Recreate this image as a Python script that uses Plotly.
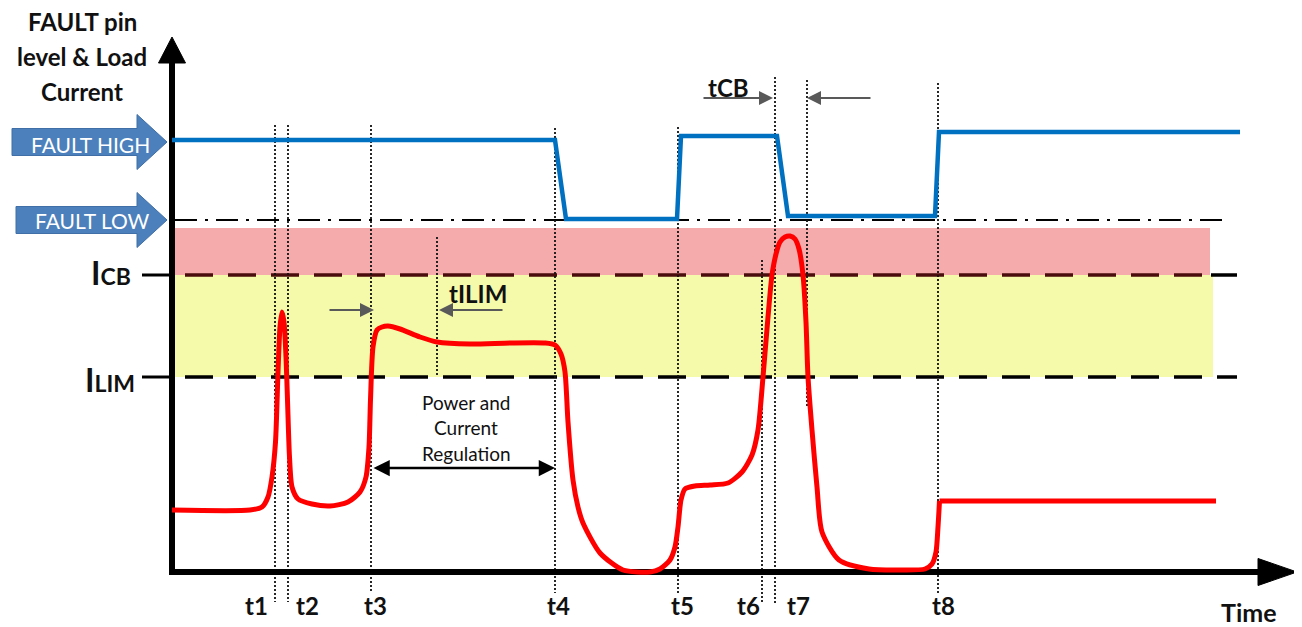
import plotly.graph_objects as go

# ---------------- data (time units / level units) ----------------
time_red = [0, 7.8, 9.0, 9.6, 10.0, 10.35, 10.6, 10.8, 11.0, 11.2, 11.4, 11.55, 11.75, 12.0, 12.6,
            14.0, 15.8, 17.6, 18.8, 19.4, 19.7, 19.85, 20.1, 20.5, 21.0, 21.6, 22.8, 24.8, 26.5,
            29.8, 33.8, 37.3, 38.3, 38.9, 39.3, 39.6, 40.1, 40.6, 41.1, 42.8, 45.1, 47.8, 48.8,
            49.8, 50.3, 50.6, 50.9, 51.3, 52.3, 53.8, 55.6, 57.0, 58.0, 58.6, 59.1, 59.6, 60.0,
            60.4, 60.8, 61.3, 61.8, 62.3, 62.7, 63.1, 63.4, 63.6, 64.0, 64.5, 65.0, 66.7, 69.7,
            72.8, 75.3, 76.0, 76.4, 76.6, 76.75]
load_current = [6.2, 6.2, 6.5, 7.5, 9.5, 13.0, 20.0, 24.5, 26.0, 25.0, 21.5, 17.2, 11.5, 8.5, 7.3,
                6.8, 6.6, 7.0, 8.0, 9.5, 12.5, 17.2, 22.5, 24.2, 24.5, 24.6, 24.3, 23.5, 23.0,
                22.8, 22.9, 22.9, 22.7, 21.8, 20.0, 15.0, 9.2, 6.5, 4.9, 1.9, 0.2, 0.0, 0.3,
                1.2, 2.5, 4.5, 7.2, 8.3, 8.6, 8.7, 8.9, 10.0, 11.7, 14.2, 19.5, 25.5, 29.7,
                31.8, 33.0, 33.5, 33.6, 33.3, 32.3, 29.7, 25.0, 19.5, 14.2, 8.5, 4.0, 1.2, 0.3,
                0.2, 0.3, 0.8, 2.0, 4.5, 7.1]
time_red_tail = [76.75, 104.4]
load_current_tail = [7.1, 7.1]

time_fault = [0, 38.3, 39.4, 50.5, 50.9, 60.5, 61.6, 76.3, 76.7, 106.8]
fault_level = [43.2, 43.2, 35.3, 35.3, 43.6, 43.6, 35.6, 35.6, 44.0, 44.0]

FAULT_HIGH = 43.0
FAULT_LOW = 35.2
I_CB = 29.7
I_LIM = 19.5
PINK_TOP = 34.4
PINK_END = 103.8
YELLOW_END = 104.1
LINE_END = 106.5

event_names = ["t1", "t2", "t3", "t4", "t5", "t6", "t7", "t8"]
event_times = [10.3, 11.6, 19.9, 38.3, 50.6, 59.0, 60.3, 76.6]
event_tops = [44.7, 44.7, 44.7, 44.4, 44.5, 31.2, 49.5, 48.9]
event_bottoms = [-3.0, -3.0, -2.1, -2.1, -2.1, -3.1, -3.1, -2.1]
event_label_x = [8.4, 13.5, 20.3, 38.6, 51.0, 57.6, 62.6, 77.1]

extra_times = [26.5, 63.5]
extra_tops = [33.5, 49.2]
extra_bottoms = [19.5, 16.5]

# page body has an 8px margin -> figure is 8px smaller and ranges shifted
X_RANGE = [-16.4, 113.0]
Y_RANGE = [-5.5, 56.4]

FONT = "Lato, Carlito, Calibri, sans-serif"
TXT = "#111111"

fig = go.Figure()

shapes = []
# bands
shapes.append(dict(type="rect", x0=0, x1=PINK_END, y0=I_CB, y1=PINK_TOP, fillcolor="#F5ABAB",
                   line_width=0, layer="below"))
shapes.append(dict(type="rect", x0=0, x1=YELLOW_END, y0=I_LIM, y1=I_CB, fillcolor="#F5F9AA",
                   line_width=0, layer="below"))
# threshold lines
for lvl, col in [(I_CB, "#4a0c0c"), (I_LIM, "#000000")]:
    shapes.append(dict(type="line", x0=-3.0, x1=0, y0=lvl, y1=lvl, line=dict(color="black", width=3),
                       layer="below"))
    shapes.append(dict(type="line", x0=1.3, x1=PINK_END if lvl == I_CB else LINE_END, y0=lvl, y1=lvl,
                       line=dict(color=col, width=3.5, dash="28px,15px"), layer="below"))
shapes.append(dict(type="line", x0=PINK_END + 0.1, x1=LINE_END, y0=I_CB, y1=I_CB,
                   line=dict(color="black", width=3.5, dash="26px,15px"), layer="below"))
# fault low dash-dot reference
shapes.append(dict(type="line", x0=0.3, x1=105.8, y0=FAULT_LOW, y1=FAULT_LOW,
                   line=dict(color="black", width=2, dash="22px,8px,3px,8px"), layer="below"))
# dotted event lines
for t, y0, y1 in zip(event_times + extra_times, event_tops + extra_tops, event_bottoms + extra_bottoms):
    shapes.append(dict(type="line", x0=t, x1=t, y0=y0, y1=y1,
                       line=dict(color="#111111", width=1.8, dash="2px,2px"), layer="below"))
# axes
shapes.append(dict(type="line", x0=0, x1=0, y0=-0.3, y1=51.2, line=dict(color="black", width=6),
                   layer="below"))
shapes.append(dict(type="line", x0=-0.3, x1=108.8, y0=0, y1=0, line=dict(color="black", width=6),
                   layer="below"))
shapes.append(dict(type="path", path="M -1.35,50.9 L 1.35,50.9 L 0,53.5 Z", fillcolor="black",
                   line=dict(color="black", width=1), layer="below"))
shapes.append(dict(type="path", path="M 108.6,1.35 L 108.6,-1.35 L 112.5,0 Z", fillcolor="black",
                   line=dict(color="black", width=1), layer="below"))


# blue block arrows
def block_arrow(left, body_half, head_base, head_half, tip, yc):
    return ("M {l},{bt} L {hb},{bt} L {hb},{ht} L {tp},{yc} L {hb},{hbm} L {hb},{bb} L {l},{bb} Z"
            .format(l=left, bt=yc + body_half, bb=yc - body_half, hb=head_base,
                    ht=yc + head_half, hbm=yc - head_half, tp=tip, yc=yc))


for yc, left in [(FAULT_HIGH, -16.0), (FAULT_LOW, -15.6)]:
    shapes.append(dict(type="path", path=block_arrow(left, 1.35, -3.5, 2.75, -0.5, yc),
                       fillcolor="#4C80BC", line=dict(color="#3F6FA6", width=1), layer="above"))

fig.add_trace(go.Scatter(x=time_red, y=load_current, mode="lines",
                         line=dict(color="#FF0000", width=5, shape="spline", smoothing=0.7),
                         hoverinfo="skip"))
fig.add_trace(go.Scatter(x=time_red_tail, y=load_current_tail, mode="lines",
                         line=dict(color="#FF0000", width=5), hoverinfo="skip"))
fig.add_trace(go.Scatter(x=time_fault, y=fault_level, mode="lines",
                         line=dict(color="#0070C0", width=4.5), hoverinfo="skip"))

ann = []
# title
for txt, y in [("FAULT pin", 55.1), ("level &amp; Load", 51.6), ("Current", 48.1)]:
    ann.append(dict(x=-9.0, y=y, text="<b>%s</b>" % txt, showarrow=False, borderpad=0,
                    font=dict(family=FONT, size=24, color=TXT), xanchor="center", yanchor="middle"))
ann.append(dict(x=-8.2, y=FAULT_HIGH - 0.2, text="FAULT HIGH", showarrow=False,
                font=dict(family=FONT, size=21, color="white")))
ann.append(dict(x=-8.0, y=FAULT_LOW, text="FAULT LOW", showarrow=False,
                font=dict(family=FONT, size=21, color="white")))
# I labels
ann.append(dict(x=-3.9, y=I_CB + 0.3, xanchor="right", yanchor="middle", showarrow=False,
                text="<b><span style='font-size:32px'>I</span><span style='font-size:23px'>CB</span></b>",
                font=dict(family=FONT, size=23, color=TXT)))
ann.append(dict(x=-3.5, y=I_LIM - 0.2, xanchor="right", yanchor="middle", showarrow=False,
                text="<b><span style='font-size:32px'>I</span><span style='font-size:23px'>LIM</span></b>",
                font=dict(family=FONT, size=23, color=TXT)))
# event labels
for name, lx in zip(event_names, event_label_x):
    ann.append(dict(x=lx, y=-3.3, text="<b>%s</b>" % name, showarrow=False,
                    font=dict(family=FONT, size=24, color=TXT)))
ann.append(dict(x=107.7, y=-4.0, text="<b>Time</b>", showarrow=False, borderpad=0,
                font=dict(family=FONT, size=25, color=TXT)))
ann.append(dict(x=30.6, y=27.9, text="<b>tILIM</b>", showarrow=False,
                font=dict(family=FONT, size=24, color=TXT)))
ann.append(dict(x=55.6, y=48.5, text="<b>tCB</b>", showarrow=False,
                font=dict(family=FONT, size=24, color=TXT)))
for txt, y in [("Power and", 17.0), ("Current", 14.5), ("Regulation", 11.9)]:
    ann.append(dict(x=29.4, y=y, text=txt, showarrow=False,
                    font=dict(family=FONT, size=19, color=TXT)))
# gray timing arrows
for x_head, x_tail, yv in [(20.2, 15.6, 26.2), (26.7, 33.2, 26.2), (60.1, 53.0, 47.4), (63.5, 70.0, 47.4)]:
    ann.append(dict(x=x_head, y=yv, ax=x_tail, ay=yv, axref="x", ayref="y", text="",
                    showarrow=True, arrowhead=2, arrowsize=1.4, arrowwidth=2, arrowcolor="#595959",
                    standoff=0, startstandoff=0))
# regulation double arrow
ann.append(dict(x=38.3, y=10.4, ax=20.0, ay=10.4, axref="x", ayref="y", text="",
                showarrow=True, arrowhead=2, arrowside="end+start", arrowsize=1.3, arrowwidth=2.5,
                arrowcolor="black", standoff=0, startstandoff=0))

fig.update_layout(
    width=1294, height=619, autosize=False,
    margin=dict(l=0, r=0, t=0, b=0, pad=0),
    paper_bgcolor="white", plot_bgcolor="white",
    showlegend=False,
    xaxis=dict(range=X_RANGE, visible=False, fixedrange=True),
    yaxis=dict(range=Y_RANGE, visible=False, fixedrange=True),
    shapes=shapes, annotations=ann,
)
fig.write_html("out.html")
